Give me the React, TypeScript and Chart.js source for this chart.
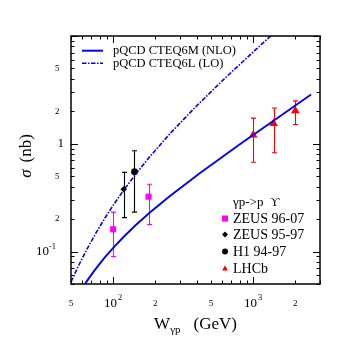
import React, { useEffect, useRef } from "react";
import { Chart, registerables } from "chart.js";

Chart.register(...registerables);

const SERIF = "'Liberation Serif', 'DejaVu Serif', 'Times New Roman', serif";

// Theory curves (W in GeV, sigma in nb)
const nloW = [63.0, 65.45, 68.78, 73.45, 79.79, 88.06, 100.5, 118.5, 144.5, 182.0, 253.1, 415.1, 803.1, 1553, 2590];
const nloSigma = [0.0502, 0.054, 0.0592, 0.06657, 0.07651, 0.08956, 0.1089, 0.1365, 0.1752, 0.2292, 0.3266, 0.5339, 0.9902, 1.804, 2.86];

const loW = [50.0, 52.82, 56.41, 61.27, 67.65, 75.93, 86.62, 100.5, 119.1, 144.5, 182.0, 253.1, 382.3, 627.0, 1028.5, 1502.5];
const loSigma = [0.0524, 0.06115, 0.07323, 0.09076, 0.1158, 0.1512, 0.2012, 0.2713, 0.3726, 0.5209, 0.7557, 1.231, 2.159, 4.046, 7.356, 11.5];

// Measurements
const zeus0607W = [100, 179];
const zeus0607Sigma = [0.161, 0.323];
const zeus0607Low = [0.09, 0.178];
const zeus0607High = [0.232, 0.421];

const zeus9597W = [119];
const zeus9597Sigma = [0.378];
const zeus9597Low = [0.2065];
const zeus9597High = [0.543];

const h1W = [142];
const h1Sigma = [0.551];
const h1Low = [0.232];
const h1High = [0.861];

const lhcbW = [1000, 1400, 2000];
const lhcbSigma = [1.204, 1.545, 2.02];
const lhcbLow = [0.673, 0.825, 1.51];
const lhcbHigh = [1.73, 2.15, 2.5];

// Axis ticks
const xLabelValues = [50, 100, 200, 500, 1000, 2000];
const xLabelBase = ["5", "10", "2", "5", "10", "2"];
const xLabelSup = ["", "2", "", "", "3", ""];
const yLabelValues = [0.1, 0.2, 0.5, 1, 2, 5];
const yLabelBase = ["10", "2", "5", "1", "2", "5"];
const yLabelSup = ["-1", "", "", "", "", ""];

const xMajorTicks = [100, 1000];
const xMinorTicks = [50, 60, 70, 80, 90, 200, 300, 400, 500, 600, 700, 800, 900, 2000, 3000];
const yMajorTicks = [0.1, 1, 10];
const yMinorTicks = [0.05, 0.06, 0.07, 0.08, 0.09, 0.2, 0.3, 0.4, 0.5, 0.6, 0.7, 0.8, 0.9, 2, 3, 4, 5, 6, 7, 8, 9];

const legendTheory = ["pQCD CTEQ6M (NLO)", "pQCD CTEQ6L (LO)"];
const legendDataTitle = "γp->p  ϒ";
const legendData = ["ZEUS 96-07", "ZEUS 95-97", "H1 94-97", "LHCb"];

const BLUE = "#0000ff";
const MAGENTA = "#ff00ff";
const RED = "#ff0000";
const BLACK = "#000000";
const DASHDOT = [4.5, 1.5, 1.5, 1.5];

const errorSets = [
  { w: zeus0607W, low: zeus0607Low, high: zeus0607High, color: MAGENTA },
  { w: zeus9597W, low: zeus9597Low, high: zeus9597High, color: BLACK },
  { w: h1W, low: h1Low, high: h1High, color: BLACK },
  { w: lhcbW, low: lhcbLow, high: lhcbHigh, color: RED },
];

function marker(ctx: CanvasRenderingContext2D, style: string, x: number, y: number, r: number, color: string) {
  ctx.save();
  ctx.fillStyle = color;
  ctx.beginPath();
  if (style === "rect") {
    ctx.rect(x - r, y - r, 2 * r, 2 * r);
  } else if (style === "diamond") {
    ctx.moveTo(x, y - r);
    ctx.lineTo(x + r, y);
    ctx.lineTo(x, y + r);
    ctx.lineTo(x - r, y);
    ctx.closePath();
  } else if (style === "circle") {
    ctx.arc(x, y, r, 0, Math.PI * 2);
  } else {
    ctx.moveTo(x, y - r);
    ctx.lineTo(x + r * 0.9, y + r * 0.6);
    ctx.lineTo(x - r * 0.9, y + r * 0.6);
    ctx.closePath();
  }
  ctx.fill();
  ctx.restore();
}

const decorPlugin = {
  id: "decor",
  beforeDatasetsDraw(chart: any) {
    const ctx: CanvasRenderingContext2D = chart.ctx;
    const xs = chart.scales.x;
    const ys = chart.scales.y;
    errorSets.forEach((set) => {
      ctx.save();
      ctx.strokeStyle = set.color;
      ctx.lineWidth = 1.1;
      set.w.forEach((w, i) => {
        const px = Math.round(xs.getPixelForValue(w)) + 0.5;
        const yl = ys.getPixelForValue(set.low[i]);
        const yh = ys.getPixelForValue(set.high[i]);
        ctx.beginPath();
        ctx.moveTo(px, yl);
        ctx.lineTo(px, yh);
        ctx.moveTo(px - 2.5, yl);
        ctx.lineTo(px + 2.5, yl);
        ctx.moveTo(px - 2.5, yh);
        ctx.lineTo(px + 2.5, yh);
        ctx.stroke();
      });
      ctx.restore();
    });
  },
  afterDraw(chart: any) {
    const ctx: CanvasRenderingContext2D = chart.ctx;
    const { left, right, top, bottom } = chart.chartArea;
    const xs = chart.scales.x;
    const ys = chart.scales.y;
    ctx.save();
    // ticks
    ctx.strokeStyle = BLACK;
    ctx.lineWidth = 1;
    const xTick = (v: number, len: number) => {
      const px = Math.round(xs.getPixelForValue(v)) + 0.5;
      ctx.beginPath();
      ctx.moveTo(px, bottom);
      ctx.lineTo(px, bottom - len);
      ctx.moveTo(px, top);
      ctx.lineTo(px, top + len);
      ctx.stroke();
    };
    const yTick = (v: number, len: number) => {
      const py = Math.round(ys.getPixelForValue(v)) + 0.5;
      ctx.beginPath();
      ctx.moveTo(left, py);
      ctx.lineTo(left + len, py);
      ctx.moveTo(right, py);
      ctx.lineTo(right - len, py);
      ctx.stroke();
    };
    xMinorTicks.forEach((v) => xTick(v, 3.5));
    xMajorTicks.forEach((v) => xTick(v, 7));
    yMinorTicks.forEach((v) => yTick(v, 3.5));
    yMajorTicks.forEach((v) => yTick(v, 7));
    // frame
    ctx.lineWidth = 1.5;
    ctx.strokeRect(left, top, right - left, bottom - top);

    // x tick labels
    ctx.fillStyle = BLACK;
    ctx.textBaseline = "middle";
    xLabelValues.forEach((v, i) => {
      const px = xs.getPixelForValue(v);
      const ly = bottom + 20;
      if (xLabelSup[i]) {
        ctx.font = `13px ${SERIF}`;
        const bw = ctx.measureText(xLabelBase[i]).width;
        ctx.font = `8.5px ${SERIF}`;
        const sw = ctx.measureText(xLabelSup[i]).width;
        const x0 = px - (bw + sw + 1) / 2;
        ctx.textAlign = "left";
        ctx.font = `13px ${SERIF}`;
        ctx.fillText(xLabelBase[i], x0, ly);
        ctx.font = `8.5px ${SERIF}`;
        ctx.fillText(xLabelSup[i], x0 + bw + 1, ly - 6);
      } else {
        ctx.textAlign = "center";
        ctx.font = `9px ${SERIF}`;
        ctx.fillText(xLabelBase[i], px, ly);
      }
    });
    // y tick labels
    yLabelValues.forEach((v, i) => {
      const py = ys.getPixelForValue(v);
      ctx.textAlign = "right";
      if (yLabelSup[i]) {
        ctx.font = `8.5px ${SERIF}`;
        const sw = ctx.measureText(yLabelSup[i]).width;
        const xr = left - 15;
        ctx.fillText(yLabelSup[i], xr, py - 5);
        ctx.font = `13px ${SERIF}`;
        ctx.fillText(yLabelBase[i], xr - sw, py);
      } else if (yLabelBase[i] === "1") {
        ctx.font = `13px ${SERIF}`;
        ctx.fillText(yLabelBase[i], left - 7, py);
      } else {
        ctx.font = `9px ${SERIF}`;
        ctx.fillText(yLabelBase[i], left - 11.5, py);
      }
    });

    // x title
    const cx = (left + right) / 2;
    ctx.textBaseline = "alphabetic";
    ctx.font = `17px ${SERIF}`;
    const wW = ctx.measureText("W").width;
    const gW = ctx.measureText("(GeV)").width;
    ctx.font = `11px ${SERIF}`;
    const subW = ctx.measureText("γp").width;
    const gap = 13;
    const total = wW + subW + gap + gW;
    const tx = cx - total / 2;
    ctx.textAlign = "left";
    ctx.font = `17px ${SERIF}`;
    ctx.fillText("W", tx, bottom + 45);
    ctx.font = `11px ${SERIF}`;
    ctx.fillText("γp", tx + wW, bottom + 49);
    ctx.font = `17px ${SERIF}`;
    ctx.fillText("(GeV)", tx + wW + subW + gap, bottom + 45);

    // y title
    ctx.save();
    ctx.translate(31, 156);
    ctx.rotate(-Math.PI / 2);
    ctx.textBaseline = "alphabetic";
    ctx.font = `italic 17px ${SERIF}`;
    const sW = ctx.measureText("σ").width;
    ctx.font = `17px ${SERIF}`;
    const nbW = ctx.measureText("(nb)").width;
    const gap2 = 7;
    const tot2 = sW + gap2 + nbW;
    ctx.textAlign = "left";
    ctx.font = `italic 17px ${SERIF}`;
    ctx.fillText("σ", -tot2 / 2, 0);
    ctx.font = `17px ${SERIF}`;
    ctx.fillText("(nb)", -tot2 / 2 + sW + gap2, 0);
    ctx.restore();

    // theory legend
    ctx.textAlign = "left";
    ctx.textBaseline = "middle";
    ctx.font = `12.5px ${SERIF}`;
    const l1y = [top + 14.7, top + 27.3];
    ctx.strokeStyle = BLUE;
    ctx.lineWidth = 2;
    ctx.beginPath();
    ctx.moveTo(left + 11, l1y[0]);
    ctx.lineTo(left + 32, l1y[0]);
    ctx.stroke();
    ctx.lineWidth = 1.6;
    ctx.setLineDash(DASHDOT);
    ctx.beginPath();
    ctx.moveTo(left + 11, l1y[1]);
    ctx.lineTo(left + 32, l1y[1]);
    ctx.stroke();
    ctx.setLineDash([]);
    ctx.fillStyle = BLACK;
    legendTheory.forEach((t, i) => ctx.fillText(t, left + 42, l1y[i]));

    // data legend
    const lx = 233;
    ctx.font = `13px ${SERIF}`;
    ctx.fillText(legendDataTitle, lx, 203);
    const ly = [218.5, 234.5, 251.5, 268.5];
    const styles = ["rect", "diamond", "circle", "triangle"];
    const colors = [MAGENTA, BLACK, BLACK, RED];
    const sizes = [3, 3, 3, 3.2];
    ctx.font = `14px ${SERIF}`;
    legendData.forEach((t, i) => {
      marker(ctx, styles[i], lx - 8, ly[i], sizes[i], colors[i]);
      ctx.fillStyle = BLACK;
      ctx.fillText(t, lx, ly[i] + 0.5);
    });
    ctx.restore();
  },
};

export default function App() {
  const ref = useRef<HTMLCanvasElement | null>(null);
  useEffect(() => {
    if (!ref.current) return;
    const pts = (xs: number[], ys: number[]) => xs.map((x, i) => ({ x, y: ys[i] }));
    const chart = new Chart(ref.current, {
      type: "scatter",
      data: {
        datasets: [
          {
            label: legendTheory[0],
            data: pts(nloW, nloSigma),
            showLine: true,
            borderColor: BLUE,
            backgroundColor: BLUE,
            borderWidth: 1.9,
            pointRadius: 0,
            tension: 0,
          },
          {
            label: legendTheory[1],
            data: pts(loW, loSigma),
            showLine: true,
            borderColor: BLUE,
            backgroundColor: BLUE,
            borderWidth: 1.6,
            borderDash: DASHDOT,
            pointRadius: 0,
            tension: 0,
          },
          {
            label: legendData[0],
            data: pts(zeus0607W, zeus0607Sigma),
            pointStyle: "rect",
            pointRadius: 4.3,
            backgroundColor: MAGENTA,
            borderColor: MAGENTA,
            borderWidth: 0,
          },
          {
            label: legendData[1],
            data: pts(zeus9597W, zeus9597Sigma),
            pointStyle: "rectRot",
            pointRadius: 3.3,
            backgroundColor: BLACK,
            borderColor: BLACK,
            borderWidth: 0,
          },
          {
            label: legendData[2],
            data: pts(h1W, h1Sigma),
            pointStyle: "circle",
            pointRadius: 3.4,
            backgroundColor: BLACK,
            borderColor: BLACK,
            borderWidth: 0,
          },
          {
            label: legendData[3],
            data: pts(lhcbW, lhcbSigma),
            pointStyle: "triangle",
            pointRadius: 5,
            backgroundColor: RED,
            borderColor: RED,
            borderWidth: 0,
          },
        ],
      },
      options: {
        responsive: false,
        animation: false,
        devicePixelRatio: 1,
        events: [],
        layout: { padding: { left: 71, top: 36, right: 36, bottom: 72 } },
        plugins: { legend: { display: false }, tooltip: { enabled: false } },
        scales: {
          x: { type: "logarithmic", min: 50, max: 3000, display: false },
          y: { type: "logarithmic", min: 0.05, max: 10, display: false },
        },
      },
      plugins: [decorPlugin],
    } as any);
    return () => chart.destroy();
  }, []);
  return (
    <div style={{ position: "absolute", left: 0, top: 0, width: 356, height: 356, background: "#fff" }}>
      <canvas ref={ref} width={356} height={356} />
    </div>
  );
}
